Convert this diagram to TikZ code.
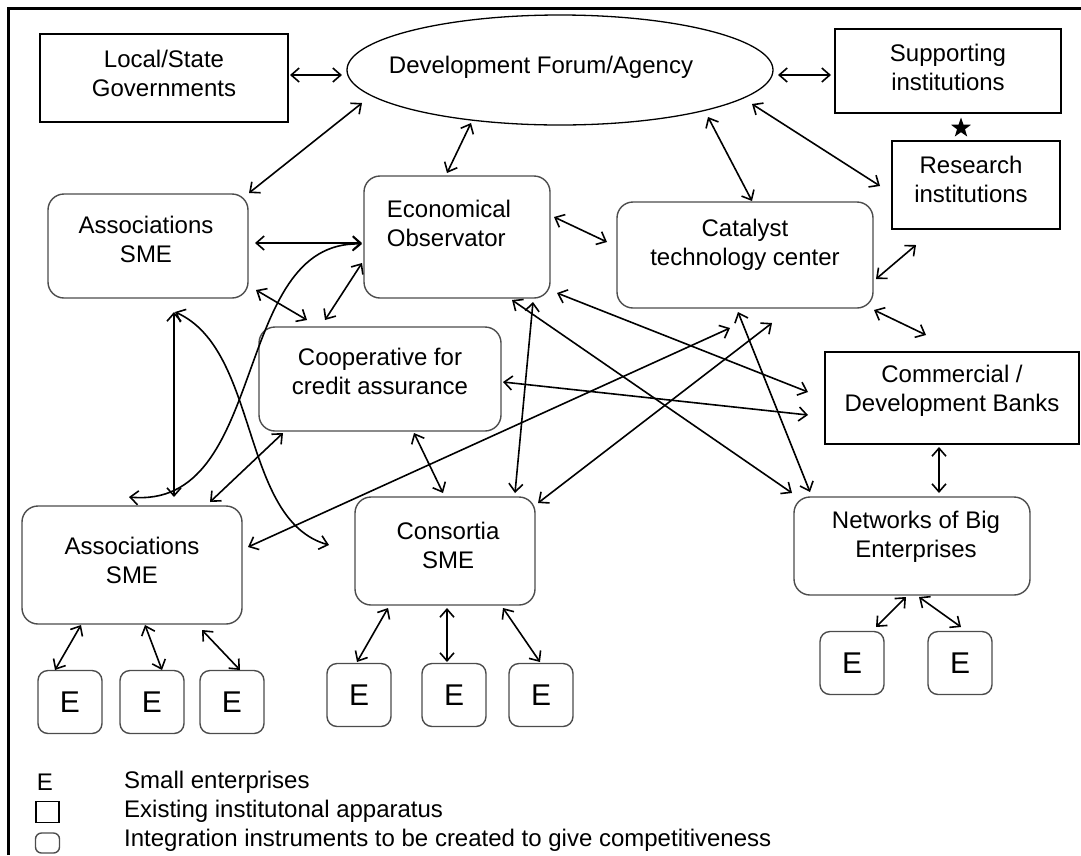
\documentclass[tikz,border=0pt]{standalone}
\usepackage{fontspec}
\setmainfont{Liberation Sans}
\usetikzlibrary{arrows.meta,calc,shapes.geometric}

\tikzset{
  inst/.style={draw, line width=1.3pt, inner sep=0pt},
  instr/.style={draw=black!70, line width=1.4pt, rounded corners=16pt, inner sep=0pt},
  ebox/.style={instr, rounded corners=10pt, minimum width=64pt, minimum height=63pt,
    font=\fontsize{30pt}{36pt}\selectfont},
  link/.style={{Straight Barb[length=8pt,width=14pt]}-{Straight Barb[length=8pt,width=14pt]}, line width=1.6pt},
  every label/.style={align=center},
}

\begin{document}
\begin{tikzpicture}[x=1pt, y=-1pt, font=\fontsize{24pt}{29pt}\selectfont]
\useasboundingbox (0,0) rectangle (1081,855);
% frame
\draw[line width=2.5pt] (8.5,855) -- (8.5,8.5) -- (1081,8.5);

% existing institutional apparatus
\node[ellipse, inst, minimum width=426pt, minimum height=110pt,
  label={[xshift=-19pt, yshift=3pt]center:Development Forum/Agency}] (forum) at (560,70) {};
\node[inst, minimum width=248pt, minimum height=88pt,
  label={[yshift=5pt]center:Local/State\\Governments}] (loc) at (164,78) {};
\node[inst, minimum width=226pt, minimum height=84pt,
  label={[yshift=4pt]center:Supporting\\institutions}] (sup) at (948,71) {};
\node[inst, minimum width=168pt, minimum height=88pt,
  label={[xshift=-5pt, yshift=6pt]center:Research\\institutions}] (res) at (976,185) {};
\node[inst, minimum width=254pt, minimum height=92pt,
  label={[yshift=7pt]center:Commercial /\\Development Banks}] (comm) at (952,398) {};
\node[star, star points=5, star point ratio=2.5, fill=black, minimum size=21pt, inner sep=0pt] (star) at (961,128) {};

% integration instruments
\node[instr, minimum width=200pt, minimum height=104pt,
  label={[xshift=-2pt, yshift=7pt]center:Associations\\SME}] (assocA) at (148,246) {};
\node[instr, minimum width=186pt, minimum height=122pt,
  label={[align=left, xshift=-8pt, yshift=14pt]center:Economical\\Observator}] (econ) at (457,237) {};
\node[instr, minimum width=256pt, minimum height=106pt,
  label={[yshift=10pt]center:Catalyst\\technology center}] (cat) at (745,255) {};
\node[instr, minimum width=242pt, minimum height=104pt,
  label={[yshift=8pt]center:Cooperative for\\credit assurance}] (coop) at (380,379) {};
\node[instr, minimum width=220pt, minimum height=118pt,
  label={[yshift=5pt]center:Associations\\SME}] (assocB) at (132,565) {};
\node[instr, minimum width=180pt, minimum height=108pt,
  label={[xshift=3pt, yshift=6pt]center:Consortia\\SME}] (cons) at (445,551) {};
\node[instr, minimum width=236pt, minimum height=98pt,
  label={[xshift=4pt, yshift=9pt]center:Networks of Big\\Enterprises}] (net) at (912,546) {};

% small enterprises
\foreach \n/\x/\y in {1/70/702, 2/152/702, 3/232/702, 4/359/695, 5/454/695, 6/541/695, 7/852/663, 8/960/663}
  \node[ebox] (e\n) at (\x,\y) {E};

% links round the forum
\draw[link] ($(loc)+(126,-3)$) -- ($(forum)+(-218,5)$);
\draw[link] ($(forum)+(218,5)$) -- ($(sup)+(-117,4)$);
\draw[link] ($(forum)+(-198,33)$) -- ($(assocA)+(101,-53)$);
\draw[link] ($(forum)+(-89,53)$) -- ($(econ)+(-10,-64)$);
\draw[link] ($(forum)+(148,47)$) -- ($(cat)+(7,-54)$);
\draw[link] ($(forum)+(192,34)$) -- ($(res)+(-96,1)$);
\draw[link] ($(econ)+(97,-20)$) -- ($(cat)+(-138,-13)$);
\draw[link] ($(cat)+(131,24)$) -- ($(res)+(-60,60)$);
\draw[link] ($(assocA)+(107,-3)$) -- ($(econ)+(-95,6)$);

% curved links
\draw[link] ($(econ)+(-95,7)$) .. controls (230,240) and (270,510) .. ($(assocB)+(-3,-68)$);
\draw[link] ($(assocA)+(27,66)$) .. controls (260,350) and (240,520) .. ($(cons)+(-116,-6)$);

% middle links
\draw[link] ($(assocA)+(26,66)$) -- ($(assocB)+(42,-68)$);
\draw[link] ($(assocA)+(108,44)$) -- ($(coop)+(-73,-59)$);
\draw[link] ($(econ)+(-95,26)$) -- ($(coop)+(-55,-59)$);
\draw[link] ($(assocB)+(78,-63)$) -- ($(coop)+(-97,54)$);
\draw[link] ($(coop)+(34,54)$) -- ($(cons)+(-2,-58)$);
\draw[link] ($(assocB)+(116,-18)$) -- ($(cat)+(-15,73)$);
\draw[link] ($(cons)+(93,-48)$) -- ($(cat)+(27,68)$);
\draw[link] ($(cons)+(70,-58)$) -- ($(econ)+(76,65)$);
\draw[link] ($(econ)+(55,63)$) -- ($(net)+(-120,-53)$);
\draw[link] ($(econ)+(100,56)$) -- ($(comm)+(-144,-6)$);
\draw[link] ($(coop)+(123,3)$) -- ($(comm)+(-144,17)$);
\draw[link] ($(cat)+(-7,57)$) -- ($(net)+(-102,-54)$);
\draw[link] ($(cat)+(129,55)$) -- ($(comm)+(-26,-63)$);
\draw[link] ($(comm)+(-13,49)$) -- ($(net)+(27,-53)$);

% links to the enterprises
\draw[link] ($(net)+(-6,51)$) -- ($(e7)+(24,-36)$);
\draw[link] ($(net)+(7,51)$) -- ($(e8)+(1,-36)$);
\draw[link] ($(assocB)+(-51,60)$) -- ($(e1)+(-15,-32)$);
\draw[link] ($(assocB)+(13,60)$) -- ($(e2)+(10,-32)$);
\draw[link] ($(assocB)+(70,65)$) -- ($(e3)+(8,-32)$);
\draw[link] ($(cons)+(-57,57)$) -- ($(e4)+(-2,-33)$);
\draw[link] ($(cons)+(2,57)$) -- ($(e5)+(-7,-33)$);
\draw[link] ($(cons)+(58,57)$) -- ($(e6)+(-1,-33)$);

% legend
\node (legE) at (45,782) {E};
\node[anchor=west, inner sep=0pt] (legsmall) at (124,782) {Small enterprises};
\node[inst, minimum width=23pt, minimum height=21pt] (legrect) at (47.5,812) {};
\node[anchor=west, inner sep=0pt] (legexist) at (124,811) {Existing institutonal apparatus};
\node[instr, rounded corners=6pt, minimum width=24pt, minimum height=20pt] (leground) at (47.5,843) {};
\node[anchor=west, inner sep=0pt] (legint) at (124,840) {Integration instruments to be created to give competitiveness};
\end{tikzpicture}
\end{document}
